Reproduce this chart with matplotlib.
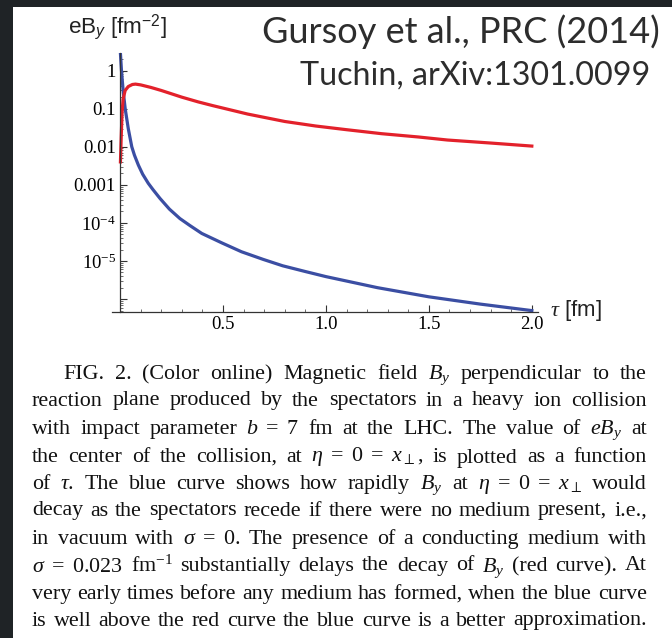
import numpy as np
import matplotlib
matplotlib.use('Agg')
import matplotlib.pyplot as plt
from matplotlib.patches import Rectangle
from matplotlib.ticker import LogLocator, MultipleLocator, NullFormatter

plt.rcParams['mathtext.fontset'] = 'custom'
plt.rcParams['mathtext.rm'] = 'Liberation Serif'
plt.rcParams['mathtext.it'] = 'Liberation Serif:italic'
plt.rcParams['mathtext.sf'] = 'Liberation Sans:italic'

# eB_y [fm^-2] vs tau [fm]
tau_vacuum = [0.002, 0.007, 0.015, 0.025, 0.04, 0.057, 0.07, 0.089, 0.11, 0.137,
              0.16, 0.194, 0.24, 0.291, 0.34, 0.397, 0.494, 0.59, 0.696, 0.79,
              0.90, 1.0, 1.25, 1.5, 1.75, 2.0]
eB_vacuum = [2.8, 1.0, 0.3, 0.1, 0.03, 0.01, 0.006, 0.0033, 0.0019, 0.0011,
             7.5e-4, 4.4e-4, 2.3e-4, 1.3e-4, 8.5e-5, 5.3e-5, 3.0e-5, 1.75e-5, 1.1e-5, 7.5e-6,
             5.3e-6, 3.9e-6, 2.0e-6, 1.15e-6, 7.4e-7, 5e-7]

tau_medium = [0.002, 0.006, 0.01, 0.015, 0.025, 0.04, 0.06, 0.075, 0.10, 0.15,
              0.20, 0.30, 0.38, 0.45, 0.62, 0.80, 0.95, 1.10, 1.27, 1.45, 1.59, 1.80, 2.0]
eB_medium = [0.004, 0.02, 0.08, 0.18, 0.3, 0.38, 0.43, 0.44, 0.42, 0.36,
             0.30, 0.20, 0.15, 0.12, 0.072, 0.046, 0.035, 0.028, 0.022, 0.018, 0.015, 0.0125, 0.0104]

y_ticks = [1, 0.1, 0.01, 0.001, 1e-4, 1e-5, 1e-6]
y_ticklabels = ['1', '0.1', '0.01', '0.001', r'$10^{-4}$', r'$10^{-5}$', '']
x_ticks = [0.5, 1.0, 1.5, 2.0]
x_ticklabels = ['0.5', '1.0', '1.5', '2.0']

caption = [
    r"FIG. 2. (Color online) Magnetic field $B_y$ perpendicular to the",
    r"reaction plane produced by the spectators in a heavy ion collision",
    r"with impact parameter $b\ =\ 7$ fm at the LHC. The value of $eB_y$ at",
    r"the center of the collision, at $\eta\ =\ 0\ =\ x_\perp$, is plotted as a function",
    r"of $\tau$. The blue curve shows how rapidly $B_y$ at $\eta\ =\ 0\ =\ x_\perp$ would",
    r"decay as the spectators recede if there were no medium present, i.e.,",
    r"in vacuum with $\sigma\ =\ 0$. The presence of a conducting medium with",
    r"$\sigma\ =\ 0.023$ fm$^{-1}$ substantially delays the decay of $B_y$ (red curve). At",
    r"very early times before any medium has formed, when the blue curve",
    r"is well above the red curve the blue curve is a better approximation.",
]

W, H = 672, 638
fig = plt.figure(figsize=(W / 100, H / 100), dpi=100, facecolor='#1f2326')
fig.add_artist(Rectangle((13 / W, 0), 1 - 13 / W, 1 - 7 / H, transform=fig.transFigure,
                         facecolor='white', edgecolor='none', zorder=-10))

ax = fig.add_axes([112 / W, 1 - 311.7 / H, (538 - 112) / W, (311.7 - 53) / H])
ax.set_facecolor('none')
ax.set_yscale('log')
ax.plot(tau_vacuum, eB_vacuum, color='#3b4ea3', lw=2.3)
ax.plot(tau_medium, eB_medium, color='#e3212b', lw=2.3)
ax.set_xlim(-0.039, 2.03)
ax.set_ylim(10 ** -6.33, 10 ** 0.46)

for s in ['top', 'right']:
    ax.spines[s].set_visible(False)
ax.spines['left'].set_position(('data', 0))
for s in ['left', 'bottom']:
    ax.spines[s].set_color('#333333')
    ax.spines[s].set_linewidth(0.9)

ax.set_yticks(y_ticks)
ax.set_yticklabels(y_ticklabels, family='Liberation Serif', fontsize=13.5)
ax.yaxis.set_minor_locator(LogLocator(base=10, subs=np.arange(2, 10), numticks=20))
ax.yaxis.set_minor_formatter(NullFormatter())
ax.set_xticks(x_ticks)
ax.set_xticklabels(x_ticklabels, family='Liberation Serif', fontsize=13.5)
ax.xaxis.set_minor_locator(MultipleLocator(0.1))
ax.tick_params(which='major', direction='in', length=5, width=0.8, color='#333333', pad=3)
ax.tick_params(which='minor', direction='in', length=2.5, width=0.6, color='#555555')

fig.text(68 / W, 1 - 33 / H, r'eB$_{\mathsf{y}}$ [fm$^{\mathregular{-2}}$]',
         family='Liberation Sans', fontsize=16.2, color='#222222', va='baseline')
fig.text(550 / W, 1 - 316 / H, r'$\tau$ [fm]', family='Liberation Sans', fontsize=16,
         color='#222222', va='baseline')

fig.text(262 / W, 1 - 43 / H, 'Gursoy et al., PRC (2014)', family='Lato', fontsize=26,
         color='#2d2d2d', va='baseline')
fig.text(300 / W, 1 - 85 / H, 'Tuchin, arXiv:1301.0099', family='Lato', fontsize=23.2,
         color='#2d2d2d', va='baseline')


def split_words(line):
    words, cur, in_math = [], '', False
    for ch in line:
        if ch == '$':
            in_math = not in_math
        if ch == ' ' and not in_math:
            if cur:
                words.append(cur)
            cur = ''
        else:
            cur += ch
    if cur:
        words.append(cur)
    return words


# justified caption, placed word by word
renderer = fig.canvas.get_renderer()
cap_lines = []
for i, line in enumerate(caption):
    left = 63 if i == 0 else 32
    right = 647
    y = 1 - (379 + 27.5 * i) / H
    words = split_words(line)
    texts = [fig.text(0, y, w, family='Liberation Serif', fontsize=15.8,
                      color='#111111', va='baseline') for w in words]
    widths = [t.get_window_extent(renderer).width for t in texts]
    gap = (right - left - sum(widths)) / (len(words) - 1)
    x = left
    for t, w in zip(texts, widths):
        t.set_x(x / W)
        x += w + gap
    cap_lines.append([t for t in texts if '$' not in t.get_text()])

# Agg can place single plain words a pixel or two off the common baseline;
# find where each one actually sits and nudge the odd ones back.
fig.canvas.draw()
gray = np.asarray(fig.canvas.buffer_rgba())[:, :, :3].mean(axis=2)
for texts in cap_lines:
    rows = []
    for t in texts:
        bb = t.get_window_extent(renderer)
        c0, c1 = int(bb.x0) + 1, int(bb.x1) - 1
        r0, r1 = int(H - bb.y1), int(H - bb.y0) + 2
        ink = gray[r0:r1, c0:c1] < 110
        bottoms = [r0 + np.nonzero(col)[0].max() for col in ink.T if col.any()]
        rows.append(np.bincount(bottoms).argmax())
    target = np.bincount(rows).argmax()
    for t, r in zip(texts, rows):
        if r != target:
            t.set_y(t.get_position()[1] + (r - target) / H)

fig.savefig('out.png', dpi=100, facecolor=fig.get_facecolor())
